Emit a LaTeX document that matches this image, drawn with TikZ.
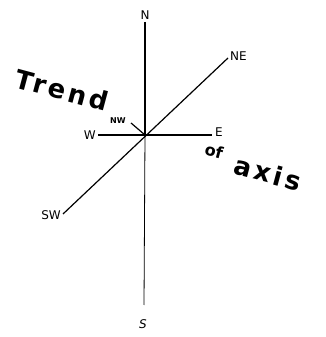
\documentclass[tikz,border=0pt]{standalone}
\usepackage{fontspec}
\setsansfont{DejaVu Sans}
\begin{document}
\begin{tikzpicture}[x=1pt, y=1pt,
                    axisline/.style={line width=1.2pt},
                    compass/.style={font=\sffamily\fontsize{12}{12}\selectfont, inner sep=1pt},
                    trendtext/.style={font=\sffamily\bfseries\fontsize{26}{26}\selectfont\addfontfeatures{LetterSpace=12},
                                      rotate=-15, inner sep=0pt}]
  \useasboundingbox (0,0) rectangle (326,337);
  \coordinate (c) at (145,202);
  \coordinate (n) at (145,315);
  \coordinate (s) at (144,32);
  \coordinate (w) at (98,202);
  \coordinate (e) at (212,202);
  \coordinate (ne) at (228,279);
  \coordinate (sw) at (63,123);
  \coordinate (nw) at (131,214);
  \draw[axisline] (n) -- (c);
  \draw[line width=0.8pt] (c) -- (s);
  \draw[axisline] (w) -- (e);
  \draw[axisline] (sw) -- (ne);
  \draw[axisline] (nw) -- (c);
  \node[compass, anchor=south] (nlabel) at (145,316) {N};
  \node[compass, anchor=north, font=\sffamily\itshape\fontsize{12}{12}\selectfont] (slabel) at (143,19) {S};
  \node[compass, anchor=east] (wlabel) at (97,202) {W};
  \node[compass, anchor=south west] (elabel) at (214,199) {E};
  \node[compass, anchor=west] (nelabel) at (229,281) {NE};
  \node[compass, anchor=east] (swlabel) at (62,122) {SW};
  \node[compass, font=\sffamily\bfseries\fontsize{8}{8}\selectfont] (nwlabel) at (118,216) {NW};
  \node[trendtext] (trend) at (62,247) {Trend};
  \node[trendtext, font=\sffamily\bfseries\fontsize{16}{16}\selectfont] (of) at (214,186) {of};
  \node[trendtext] (axis) at (268,164) {axis};
\end{tikzpicture}
\end{document}
